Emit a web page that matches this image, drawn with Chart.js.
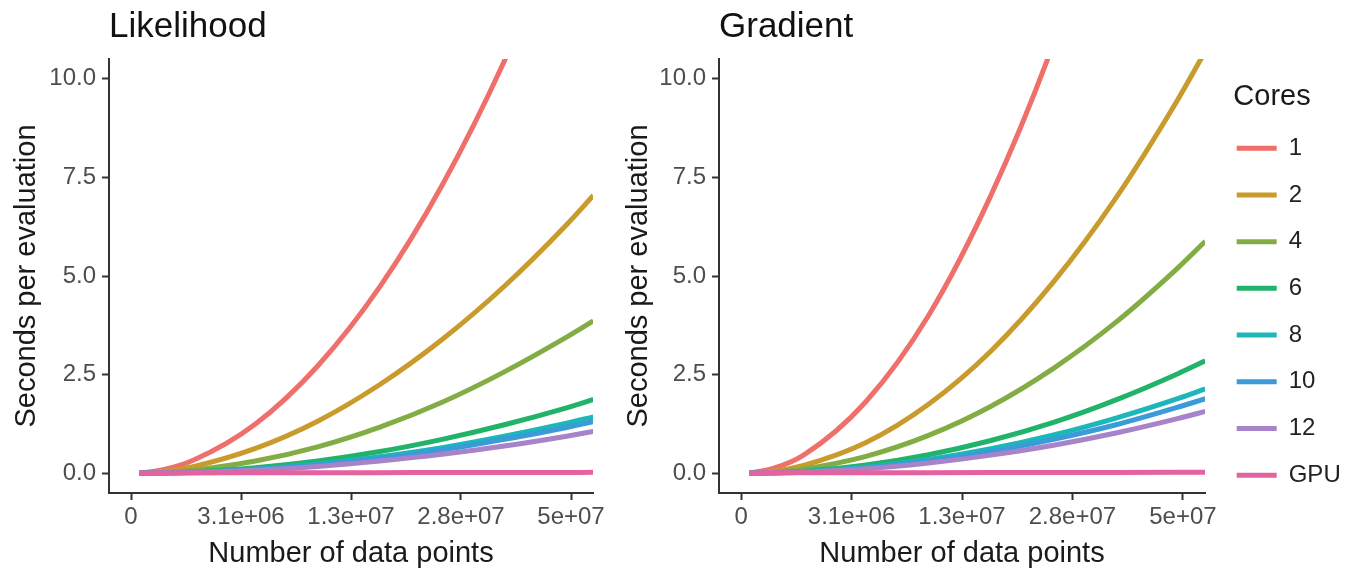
<!DOCTYPE html>
<html>
<head>
<meta charset="utf-8">
<script src="https://cdn.jsdelivr.net/npm/chart.js@4.4.1/dist/chart.umd.min.js"></script>
<style>
  html, body { margin: 0; padding: 0; background: #fff; }
  .panel { position: absolute; top: 0; height: 572px; }
  #likelihood-panel { left: 0; width: 612px; }
  #gradient-panel { left: 612px; width: 753px; }
</style>
</head>
<body>
<div class="panel" id="likelihood-panel"><canvas id="likelihood-chart"></canvas></div>
<div class="panel" id="gradient-panel"><canvas id="gradient-chart"></canvas></div>
<script>
// data (x = number of data points, y = seconds per evaluation)
const dataPoints = [1.8e4, 2.5e5, 1.0e6, 4.0e6, 9.0e6, 1.6e7, 2.5e7, 3.6e7, 4.9e7, 5.52e7];
const coreLabels = ['1', '2', '4', '6', '8', '10', '12', 'GPU'];

const likelihood1 = [0.005, 0.083, 0.33, 1.25, 2.72, 4.73, 7.30, 10.45, 14.2, 15.95];
const likelihood2 = [0.004, 0.044, 0.17, 0.63, 1.32, 2.25, 3.39, 4.74, 6.30, 7.04];
const likelihood4 = [0.004, 0.021, 0.08, 0.31, 0.67, 1.17, 1.80, 2.57, 3.45, 3.86];
const likelihood6 = [0.003, 0.010, 0.035, 0.14, 0.31, 0.55, 0.86, 1.23, 1.66, 1.87];
const likelihood8 = [0.003, 0.008, 0.027, 0.105, 0.235, 0.42, 0.65, 0.94, 1.27, 1.43];
const likelihood10 = [0.003, 0.007, 0.024, 0.095, 0.215, 0.38, 0.59, 0.86, 1.16, 1.31];
const likelihood12 = [0.003, 0.006, 0.019, 0.077, 0.173, 0.31, 0.48, 0.69, 0.94, 1.06];
const likelihoodGpu = [0.01, 0.01, 0.01, 0.012, 0.014, 0.016, 0.018, 0.02, 0.022, 0.023];

const gradient1 = [0.008, 0.115, 0.46, 1.82, 4.00, 7.05, 10.9, 15.7, 21.3, 24.0];
const gradient2 = [0.006, 0.050, 0.20, 0.78, 1.75, 3.10, 4.85, 6.98, 9.50, 10.7];
const gradient4 = [0.005, 0.028, 0.11, 0.43, 0.96, 1.70, 2.66, 3.83, 5.22, 5.88];
const gradient6 = [0.004, 0.014, 0.052, 0.21, 0.47, 0.83, 1.29, 1.86, 2.53, 2.85];
const gradient8 = [0.004, 0.011, 0.039, 0.155, 0.35, 0.62, 0.97, 1.40, 1.90, 2.14];
const gradient10 = [0.004, 0.010, 0.034, 0.137, 0.31, 0.55, 0.86, 1.23, 1.68, 1.89];
const gradient12 = [0.003, 0.008, 0.028, 0.114, 0.26, 0.46, 0.71, 1.02, 1.39, 1.57];
const gradientGpu = [0.01, 0.011, 0.012, 0.014, 0.016, 0.018, 0.02, 0.022, 0.024, 0.025];

const xTickValues = [0, 3.125e6, 1.25e7, 2.8125e7, 5e7];
const xTickLabels = ['0', '3.1e+06', '1.3e+07', '2.8e+07', '5e+07'];
const yTickValues = [0, 2.5, 5, 7.5, 10];
const yTickLabels = ['0.0', '2.5', '5.0', '7.5', '10.0'];

const coreColors = ['#ef6f6a', '#c99a2c', '#82ad45', '#22b36a', '#1db6b9', '#3a9bd8', '#a783c9', '#e462a0'];

Chart.defaults.font.family = "'Liberation Sans', Arial, Helvetica, sans-serif";
Chart.defaults.color = '#4d4d4d';

const axisColor = '#333';
const xMax = Math.sqrt(xTickValues[xTickValues.length - 1]);

// the legend sits a little right of the panel edge in the original,
// and its clip box has to reach the canvas edge so "GPU" is not cut
const legendNudge = {
    id: 'legendNudge',
    afterLayout: (chart) => {
        if (chart.legend && chart.options.plugins.legend.display) {
            chart.legend.left += 9;
            chart.legend.right = chart.width;
        }
    },
};

/**
 * Turn the per-core series into line datasets on a square-root x axis
 * @param {Array} series
 * @returns {Array}
 */
const buildDatasets = (series) => {
    return series.map((values, i) => ({
        label: coreLabels[i],
        data: values.map((y, j) => ({ x: Math.sqrt(dataPoints[j]), y: y })),
        borderColor: coreColors[i],
        backgroundColor: coreColors[i],
        borderWidth: 5,
        borderCapStyle: 'butt',
        pointRadius: 0,
        cubicInterpolationMode: 'monotone',
        fill: false,
        clip: 0,
        order: -i,
    }));
};

/**
 * Options shared by both panels
 * @param {String} title
 * @param {Boolean} showLegend
 * @returns {Object}
 */
const getChartOptions = (title, showLegend, yWidth, rightPad) => {
    return {
        responsive: true,
        maintainAspectRatio: false,
        animation: false,
        layout: { padding: { left: 0, right: rightPad, top: 0, bottom: 0 } },
        plugins: {
            tooltip: { enabled: false },
            title: {
                display: true,
                text: title,
                align: 'start',
                fullSize: false,
                color: '#111',
                font: { size: 35, weight: 'normal' },
                padding: { top: 6, bottom: 11 },
            },
            legend: {
                display: showLegend,
                position: 'right',
                align: 'center',
                maxWidth: 116,
                title: {
                    display: true,
                    text: 'Cores',
                    position: 'center',
                    color: '#1a1a1a',
                    font: { size: 29, lineHeight: 1 },
                    padding: { top: 20, bottom: 2.4 },
                },
                labels: {
                    usePointStyle: true,
                    pointStyle: 'line',
                    pointStyleWidth: 40,
                    padding: 22.7,
                    color: '#222',
                    font: { size: 24 },
                    sort: (a, b) => a.datasetIndex - b.datasetIndex,
                },
            },
        },
        scales: {
            x: {
                type: 'linear',
                min: -0.05 * xMax,
                max: 1.05 * xMax,
                afterBuildTicks: (scale) => {
                    scale.ticks = xTickValues.map((v) => ({ value: Math.sqrt(v) }));
                },
                afterFit: (scale) => { scale.height = 79; },
                ticks: {
                    callback: (value, index) => xTickLabels[index],
                    autoSkip: false,
                    maxRotation: 0,
                    padding: 3,
                    color: '#4d4d4d',
                    font: { size: 24 },
                },
                grid: { drawOnChartArea: false, drawTicks: true, tickLength: 7, tickColor: axisColor, tickWidth: 2 },
                border: { display: true, color: axisColor, width: 2 },
                title: {
                    display: true,
                    text: 'Number of data points',
                    color: '#1a1a1a',
                    font: { size: 29 },
                    padding: { top: 1, bottom: 1 },
                },
            },
            y: {
                min: -0.5,
                max: 10.5,
                afterBuildTicks: (scale) => {
                    scale.ticks = yTickValues.map((v) => ({ value: v }));
                },
                afterFit: (scale) => { scale.width = yWidth; },
                ticks: {
                    callback: (value, index) => yTickLabels[index],
                    padding: 6,
                    color: '#4d4d4d',
                    font: { size: 24 },
                },
                grid: { drawOnChartArea: false, drawTicks: true, tickLength: 7, tickColor: axisColor, tickWidth: 2 },
                border: { display: true, color: axisColor, width: 2 },
                title: {
                    display: true,
                    text: 'Seconds per evaluation',
                    color: '#1a1a1a',
                    font: { size: 29 },
                    padding: { top: 10, bottom: 10 },
                },
            },
        },
    };
};

const drawPanel = (elementId, title, series, showLegend, yWidth, rightPad) => {
    const element = document.getElementById(elementId);
    return new Chart(element, {
        type: 'line',
        data: { datasets: buildDatasets(series) },
        options: getChartOptions(title, showLegend, yWidth, rightPad),
        plugins: [legendNudge],
    });
};

drawPanel('likelihood-chart', 'Likelihood',
    [likelihood1, likelihood2, likelihood4, likelihood6, likelihood8, likelihood10, likelihood12, likelihoodGpu],
    false, 109, 19);
drawPanel('gradient-chart', 'Gradient',
    [gradient1, gradient2, gradient4, gradient6, gradient8, gradient10, gradient12, gradientGpu],
    true, 107, 44);
</script>
</body>
</html>
